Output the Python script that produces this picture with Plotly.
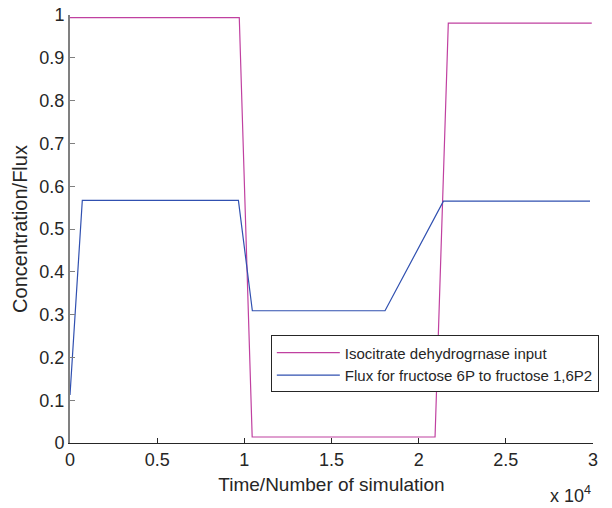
import plotly.graph_objects as go

# Data (time in raw simulation units)
icdh_time = [0, 9710, 10450, 20940, 21700, 29930]
icdh_value = [0.994, 0.994, 0.014, 0.014, 0.981, 0.981]

flux_time = [0, 706, 9660, 10460, 18070, 21420, 29830]
flux_value = [0.112, 0.567, 0.567, 0.309, 0.309, 0.565, 0.565]

x_tickvals = [0, 5000, 10000, 15000, 20000, 25000, 30000]
x_ticktext = ["0", "0.5", "1", "1.5", "2", "2.5", "3"]

series_names = ["Isocitrate dehydrogrnase input", "Flux for fructose 6P to fructose 1,6P2"]

FONT = "Liberation Sans, Arial, sans-serif"
TXT = "#262626"

fig = go.Figure()
fig.add_trace(go.Scatter(x=icdh_time, y=icdh_value, mode="lines", name=series_names[0],
                         line=dict(color="#c040a0", width=1.2)))
fig.add_trace(go.Scatter(x=flux_time, y=flux_value, mode="lines", name=series_names[1],
                         line=dict(color="#3050b0", width=1.2)))

fig.update_layout(
    width=612, height=508,
    margin=dict(l=70, r=19, t=15, b=65, autoexpand=False),
    paper_bgcolor="white", plot_bgcolor="white",
    font=dict(family=FONT, size=18, color=TXT),
    showlegend=True,
    legend=dict(x=0.384, y=0.2514, xanchor="left", yanchor="top",
                bordercolor="#262626", borderwidth=1, bgcolor="white",
                font=dict(size=15, color=TXT), itemwidth=63),
    xaxis=dict(range=[0, 30000], tickvals=x_tickvals, ticktext=x_ticktext,
               showgrid=False, zeroline=False, showline=True, linecolor="#262626", linewidth=1,
               ticks="inside", ticklen=5, tickcolor="#262626",
               title=dict(text="Time/Number of simulation", font=dict(size=19), standoff=9)),
    yaxis=dict(range=[0, 1], dtick=0.1, tick0=0,
               showgrid=False, zeroline=False, showline=True, linecolor="#808080", linewidth=2,
               ticks="inside", ticklen=5, tickcolor="#808080",
               title=dict(text="Concentration/Flux", font=dict(size=20), standoff=6)),
    annotations=[dict(text="x 10<sup>4</sup>", xref="paper", yref="paper", x=1.0, y=-0.12,
                      xanchor="right", yanchor="middle", showarrow=False,
                      font=dict(size=18, color=TXT))],
)

fig.write_html("out.html", config={"displayModeBar": False},
               post_script="document.body.style.margin='0';")
